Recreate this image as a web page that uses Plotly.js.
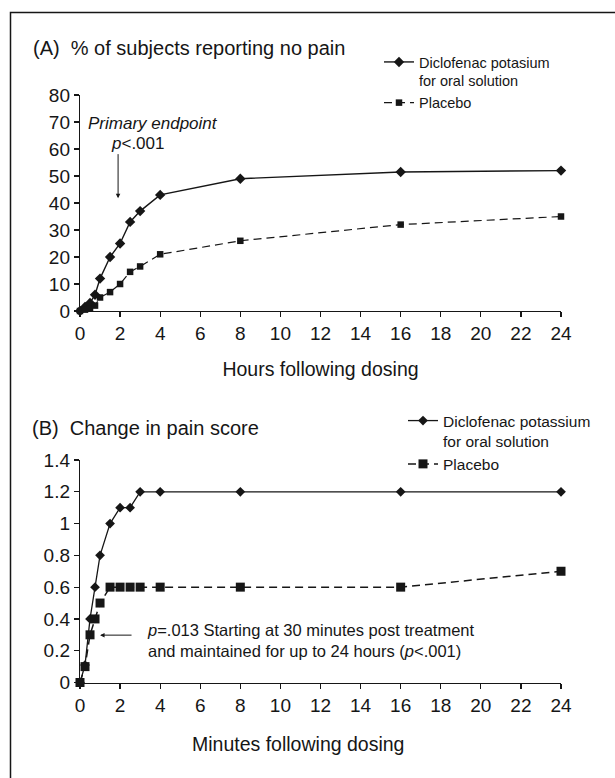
<!DOCTYPE html>
<html>
<head>
<meta charset="utf-8">
<script src="https://cdn.plot.ly/plotly-3.0.1.min.js"></script>
<style>html,body{margin:0;padding:0;background:#fff;}#chart{width:615px;height:778px;}</style>
</head>
<body>
<div id="chart"></div>
<script>
// ---- Data ----
const hoursA = [0, 0.25, 0.5, 0.75, 1, 1.5, 2, 2.5, 3, 4, 8, 16, 24];
const diclofenacNoPain = [0, 1.5, 3, 6, 12, 20, 25, 33, 37, 43, 49, 51.5, 52];
const placeboNoPain = [0, 0.5, 1, 2, 5, 7, 10, 14.5, 16.5, 21, 26, 32, 35];

const timeB = [0, 0.25, 0.5, 0.75, 1, 1.5, 2, 2.5, 3, 4, 8, 16, 24];
const diclofenacPainChange = [0, 0.11, 0.4, 0.6, 0.8, 1.0, 1.1, 1.1, 1.2, 1.2, 1.2, 1.2, 1.2];
const placeboPainChange = [0, 0.1, 0.3, 0.4, 0.5, 0.6, 0.6, 0.6, 0.6, 0.6, 0.6, 0.6, 0.7];

const seriesNamesA = ["Diclofenac potasium<br>for oral solution", "Placebo"];
const seriesNamesB = ["Diclofenac potassium<br>for oral solution", "Placebo"];
const panelTitleA = "(A)\u00a0\u00a0% of subjects reporting no pain";
const panelTitleB = "(B)\u00a0\u00a0Change in pain score";
const xTitleA = "Hours following dosing";
const xTitleB = "Minutes following dosing";
const xTicks = [0, 2, 4, 6, 8, 10, 12, 14, 16, 18, 20, 22, 24];

// ---- Layout helpers ----
const W = 615, H = 778;
const px = v => v / W;
const py = v => 1 - v / H;
const FONT = "Liberation Sans, Arial, Helvetica, sans-serif";
const INK = "#161616";

const traces = [
  {x: hoursA, y: diclofenacNoPain, name: seriesNamesA[0], xaxis: 'x', yaxis: 'y', legend: 'legend',
   mode: 'lines+markers', cliponaxis: false,
   line: {color: INK, width: 1.4}, marker: {symbol: 'diamond', size: 8, color: INK}},
  {x: hoursA, y: placeboNoPain, name: seriesNamesA[1], xaxis: 'x', yaxis: 'y', legend: 'legend',
   mode: 'lines+markers', cliponaxis: false,
   line: {color: INK, width: 1.2, dash: '8px,5px'}, marker: {symbol: 'square', size: 6.5, color: INK}},
  {x: timeB, y: diclofenacPainChange, name: seriesNamesB[0], xaxis: 'x2', yaxis: 'y2', legend: 'legend2',
   mode: 'lines+markers', cliponaxis: false,
   line: {color: INK, width: 1.3}, marker: {symbol: 'diamond', size: 7.5, color: INK}},
  {x: timeB, y: placeboPainChange, name: seriesNamesB[1], xaxis: 'x2', yaxis: 'y2', legend: 'legend2',
   mode: 'lines+markers', cliponaxis: false,
   line: {color: INK, width: 1.5, dash: '8px,5px'}, marker: {symbol: 'square', size: 9, color: INK}}
];

const axisCommon = {
  showgrid: false, zeroline: false, showline: true, linecolor: INK, linewidth: 1.2,
  ticks: 'outside', ticklen: 5, tickwidth: 1.2, tickcolor: INK,
  tickfont: {family: FONT, size: 19, color: INK}, fixedrange: true
};

const layout = {
  width: W, height: H,
  margin: {l: 0, r: 0, t: 0, b: 0},
  paper_bgcolor: '#fff', plot_bgcolor: '#fff',
  font: {family: FONT, color: INK},
  title: {text: panelTitleA, x: px(33), xanchor: 'left', xref: 'paper',
          y: py(48), yanchor: 'middle', yref: 'container',
          font: {family: FONT, size: 20, color: INK}},
  xaxis: Object.assign({}, axisCommon, {domain: [px(80), px(561)], range: [0, 24], anchor: 'y',
          tickvals: xTicks, title: {text: xTitleA, font: {family: FONT, size: 19.5, color: INK}, standoff: 19}}),
  yaxis: Object.assign({}, axisCommon, {domain: [py(311), py(95)], range: [0, 80], dtick: 10, anchor: 'x'}),
  xaxis2: Object.assign({}, axisCommon, {domain: [px(80), px(561)], range: [0, 24], anchor: 'y2',
          tickvals: xTicks}),
  yaxis2: Object.assign({}, axisCommon, {domain: [py(682.5), py(460)], range: [0, 1.4], dtick: 0.2, anchor: 'x2'}),
  showlegend: true,
  legend: {x: px(379), xanchor: 'left', y: py(46), yanchor: 'top', bgcolor: 'rgba(0,0,0,0)',
           borderwidth: 0, valign: 'top', tracegroupgap: 0,
           font: {family: FONT, size: 14.5, color: INK}},
  legend2: {x: px(403), xanchor: 'left', y: py(404), yanchor: 'top', bgcolor: 'rgba(0,0,0,0)',
           borderwidth: 0, valign: 'top', tracegroupgap: 0,
           font: {family: FONT, size: 15.5, color: INK}},
  shapes: [
    {type: 'rect', xref: 'paper', yref: 'paper', x0: px(10.5), x1: 1.05, y0: -0.05, y1: py(12.5),
     line: {color: INK, width: 1.5}, fillcolor: 'rgba(0,0,0,0)'}
  ],
  annotations: [
    {text: panelTitleB, xref: 'paper', yref: 'paper', x: px(30), y: py(428), xanchor: 'left', yanchor: 'middle',
     showarrow: false, font: {family: FONT, size: 20, color: INK}},
    {text: xTitleB, xref: 'paper', yref: 'paper', x: px(298), y: py(743.5), xanchor: 'center', yanchor: 'middle',
     showarrow: false, font: {family: FONT, size: 19.5, color: INK}},
    {text: '<i>Primary endpoint</i>', xref: 'paper', yref: 'paper', x: px(152.5), y: py(123),
     xanchor: 'center', yanchor: 'middle', showarrow: false, font: {family: FONT, size: 17, color: INK}},
    {text: '<i>p</i>&lt;.001', xref: 'paper', yref: 'paper', x: px(137.5), y: py(143),
     xanchor: 'center', yanchor: 'middle', showarrow: false, font: {family: FONT, size: 17, color: INK}},
    {text: ' ', xref: 'x', yref: 'y', x: 1.9, y: 41.8, ax: 0, ay: -46, showarrow: true,
     arrowhead: 2, arrowsize: 0.9, arrowwidth: 1, arrowcolor: INK, standoff: 0, startstandoff: 0,
     font: {size: 1}},
    {text: ' ', xref: 'x2', yref: 'y2', x: 1.0, y: 0.298, ax: 33, ay: 0, showarrow: true,
     arrowhead: 2, arrowsize: 0.9, arrowwidth: 1, arrowcolor: INK, standoff: 0, startstandoff: 0,
     font: {size: 1}},
    {text: '<i>p</i>=.013 Starting at 30 minutes post treatment<br>and maintained for up to 24 hours (<i>p</i>&lt;.001)',
     xref: 'paper', yref: 'paper', align: 'left',
     x: px(145), y: py(640), xanchor: 'left', yanchor: 'middle', showarrow: false,
     font: {family: FONT, size: 16.5, color: INK}}
  ]
};

Plotly.newPlot('chart', traces, layout, {staticPlot: true, displayModeBar: false});
</script>
</body>
</html>
